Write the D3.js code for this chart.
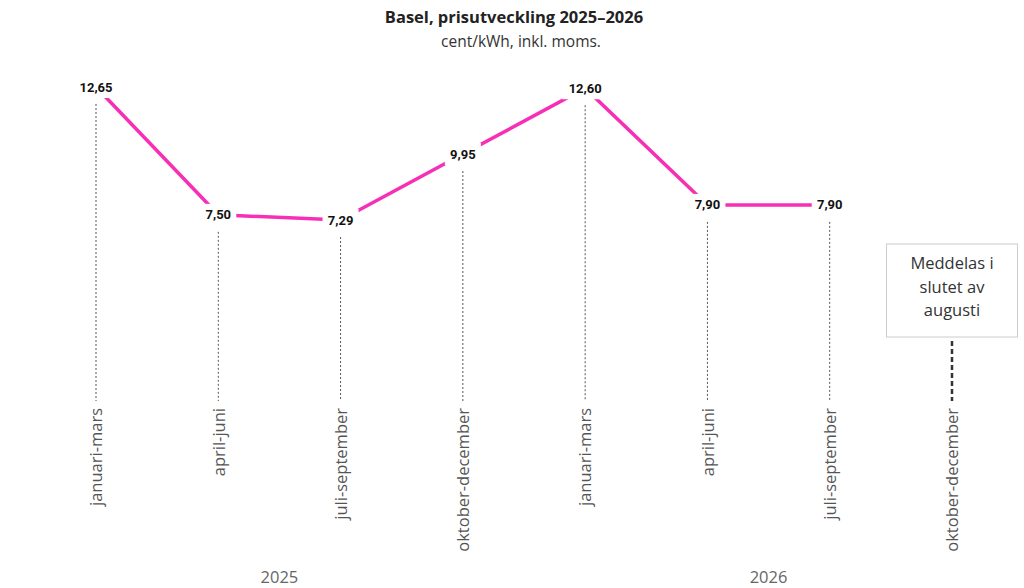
<!DOCTYPE html>
<html>
<head>
<meta charset="utf-8">
<script src="https://cdn.jsdelivr.net/npm/d3@7"></script>
<style>
  body { margin: 0; background: #fff; }
  svg { font-family: "Open Sans", sans-serif; }
</style>
</head>
<body>
<svg width="1024" height="588"></svg>
<script>
// kvartal och priser
const quarters = ["januari-mars", "april-juni", "juli-september", "oktober-december",
                  "januari-mars", "april-juni", "juli-september", "oktober-december"];
const prices = [12.65, 7.50, 7.29, 9.95, 12.60, 7.90, 7.90, null];
const years = ["2025", "2026"];
const pendingText = ["Meddelas i", "slutet av", "augusti"];

const svg = d3.select("svg");
const pink = "#f72fb4";

const scX = d3.scalePoint()
    .domain(d3.range(quarters.length))
    .range([96, 952]);

const scY = d3.scaleLinear()
    .domain([0, 12.65])
    .range([401, 87]);

const fmt = v => d3.format(".2f")(v).replace(".", ",");
const data = prices.map((v, i) => ({i: i, v: v}));
const known = data.filter(d => d.v !== null);

// rubrik
svg.append("text")
   .attr("x", 514).attr("y", 23)
   .attr("text-anchor", "middle")
   .style("font-weight", "bold").style("font-size", "16.5px").style("fill", "#222")
   .text("Basel, prisutveckling 2025–2026");
svg.append("text")
   .attr("x", 521).attr("y", 47)
   .attr("text-anchor", "middle")
   .style("font-size", "15.5px").style("fill", "#333")
   .text("cent/kWh, inkl. moms.");

// streckade linjer ner till axeln
svg.selectAll(".drop")
   .data(known)
   .enter()
   .append("line")
   .attr("x1", d => scX(d.i)).attr("x2", d => scX(d.i))
   .attr("y1", d => scY(d.v) + 17)
   .attr("y2", scY(0))
   .attr("stroke", "#555")
   .attr("stroke-width", 1)
   .attr("stroke-dasharray", "2,2");

// prislinje
svg.append("path")
   .datum(known)
   .attr("fill", "none")
   .attr("stroke", pink)
   .attr("stroke-width", 3.5)
   .attr("d", d3.line().x(d => scX(d.i)).y(d => scY(d.v)));

// värdeetiketter med vit bakgrund
const lab = svg.selectAll(".lab")
   .data(known)
   .enter()
   .append("g")
   .attr("transform", d => `translate(${scX(d.i)}, ${scY(d.v)})`);
lab.append("rect")
   .attr("x", d => d.v >= 10 ? -23 : -18)
   .attr("y", -11)
   .attr("width", d => d.v >= 10 ? 46 : 36)
   .attr("height", 22)
   .attr("fill", "#fff");
lab.append("text")
   .attr("text-anchor", "middle")
   .attr("dy", "0.35em")
   .style("font-family", "Roboto, 'Liberation Sans', sans-serif")
   .style("font-weight", "bold").style("font-size", "13px").style("fill", "#111")
   .text(d => fmt(d.v));

// sista kvartalet: ruta
const last = quarters.length - 1;
svg.append("rect")
   .attr("x", scX(last) - 65.5).attr("y", 244)
   .attr("width", 131).attr("height", 93)
   .attr("fill", "#fff").attr("stroke", "#ccc");
svg.append("g").selectAll("text")
   .data(pendingText)
   .enter()
   .append("text")
   .attr("x", scX(last))
   .attr("y", (d, i) => 269 + i * 23.5)
   .attr("text-anchor", "middle")
   .style("font-size", "16.5px").style("fill", "#333")
   .text(d => d);
svg.append("line")
   .attr("x1", scX(last)).attr("x2", scX(last))
   .attr("y1", 341).attr("y2", scY(0))
   .attr("stroke", "#333")
   .attr("stroke-width", 2.5)
   .attr("stroke-dasharray", "5,3");

// x-axel
const axisX = d3.axisBottom(scX).tickSize(0).tickFormat(i => quarters[i]);
const gx = svg.append("g")
   .attr("transform", `translate(0, ${scY(0) + 7})`)
   .call(axisX);
gx.select(".domain").remove();
gx.selectAll("text")
   .style("font-family", "'Open Sans', sans-serif")
   .style("font-size", "16.5px")
   .style("fill", "#555")
   .style("text-anchor", "end")
   .attr("dx", 0)
   .attr("dy", "0.35em")
   .attr("y", 0)
   .attr("transform", "rotate(-90)");

// årtal
svg.selectAll(".year")
   .data(years)
   .enter()
   .append("text")
   .attr("x", (d, k) => (scX(k * 4) + scX(k * 4 + 3)) / 2)
   .attr("y", 583)
   .attr("text-anchor", "middle")
   .style("font-size", "16.5px").style("fill", "#666")
   .text(d => d);
</script>
</body>
</html>
